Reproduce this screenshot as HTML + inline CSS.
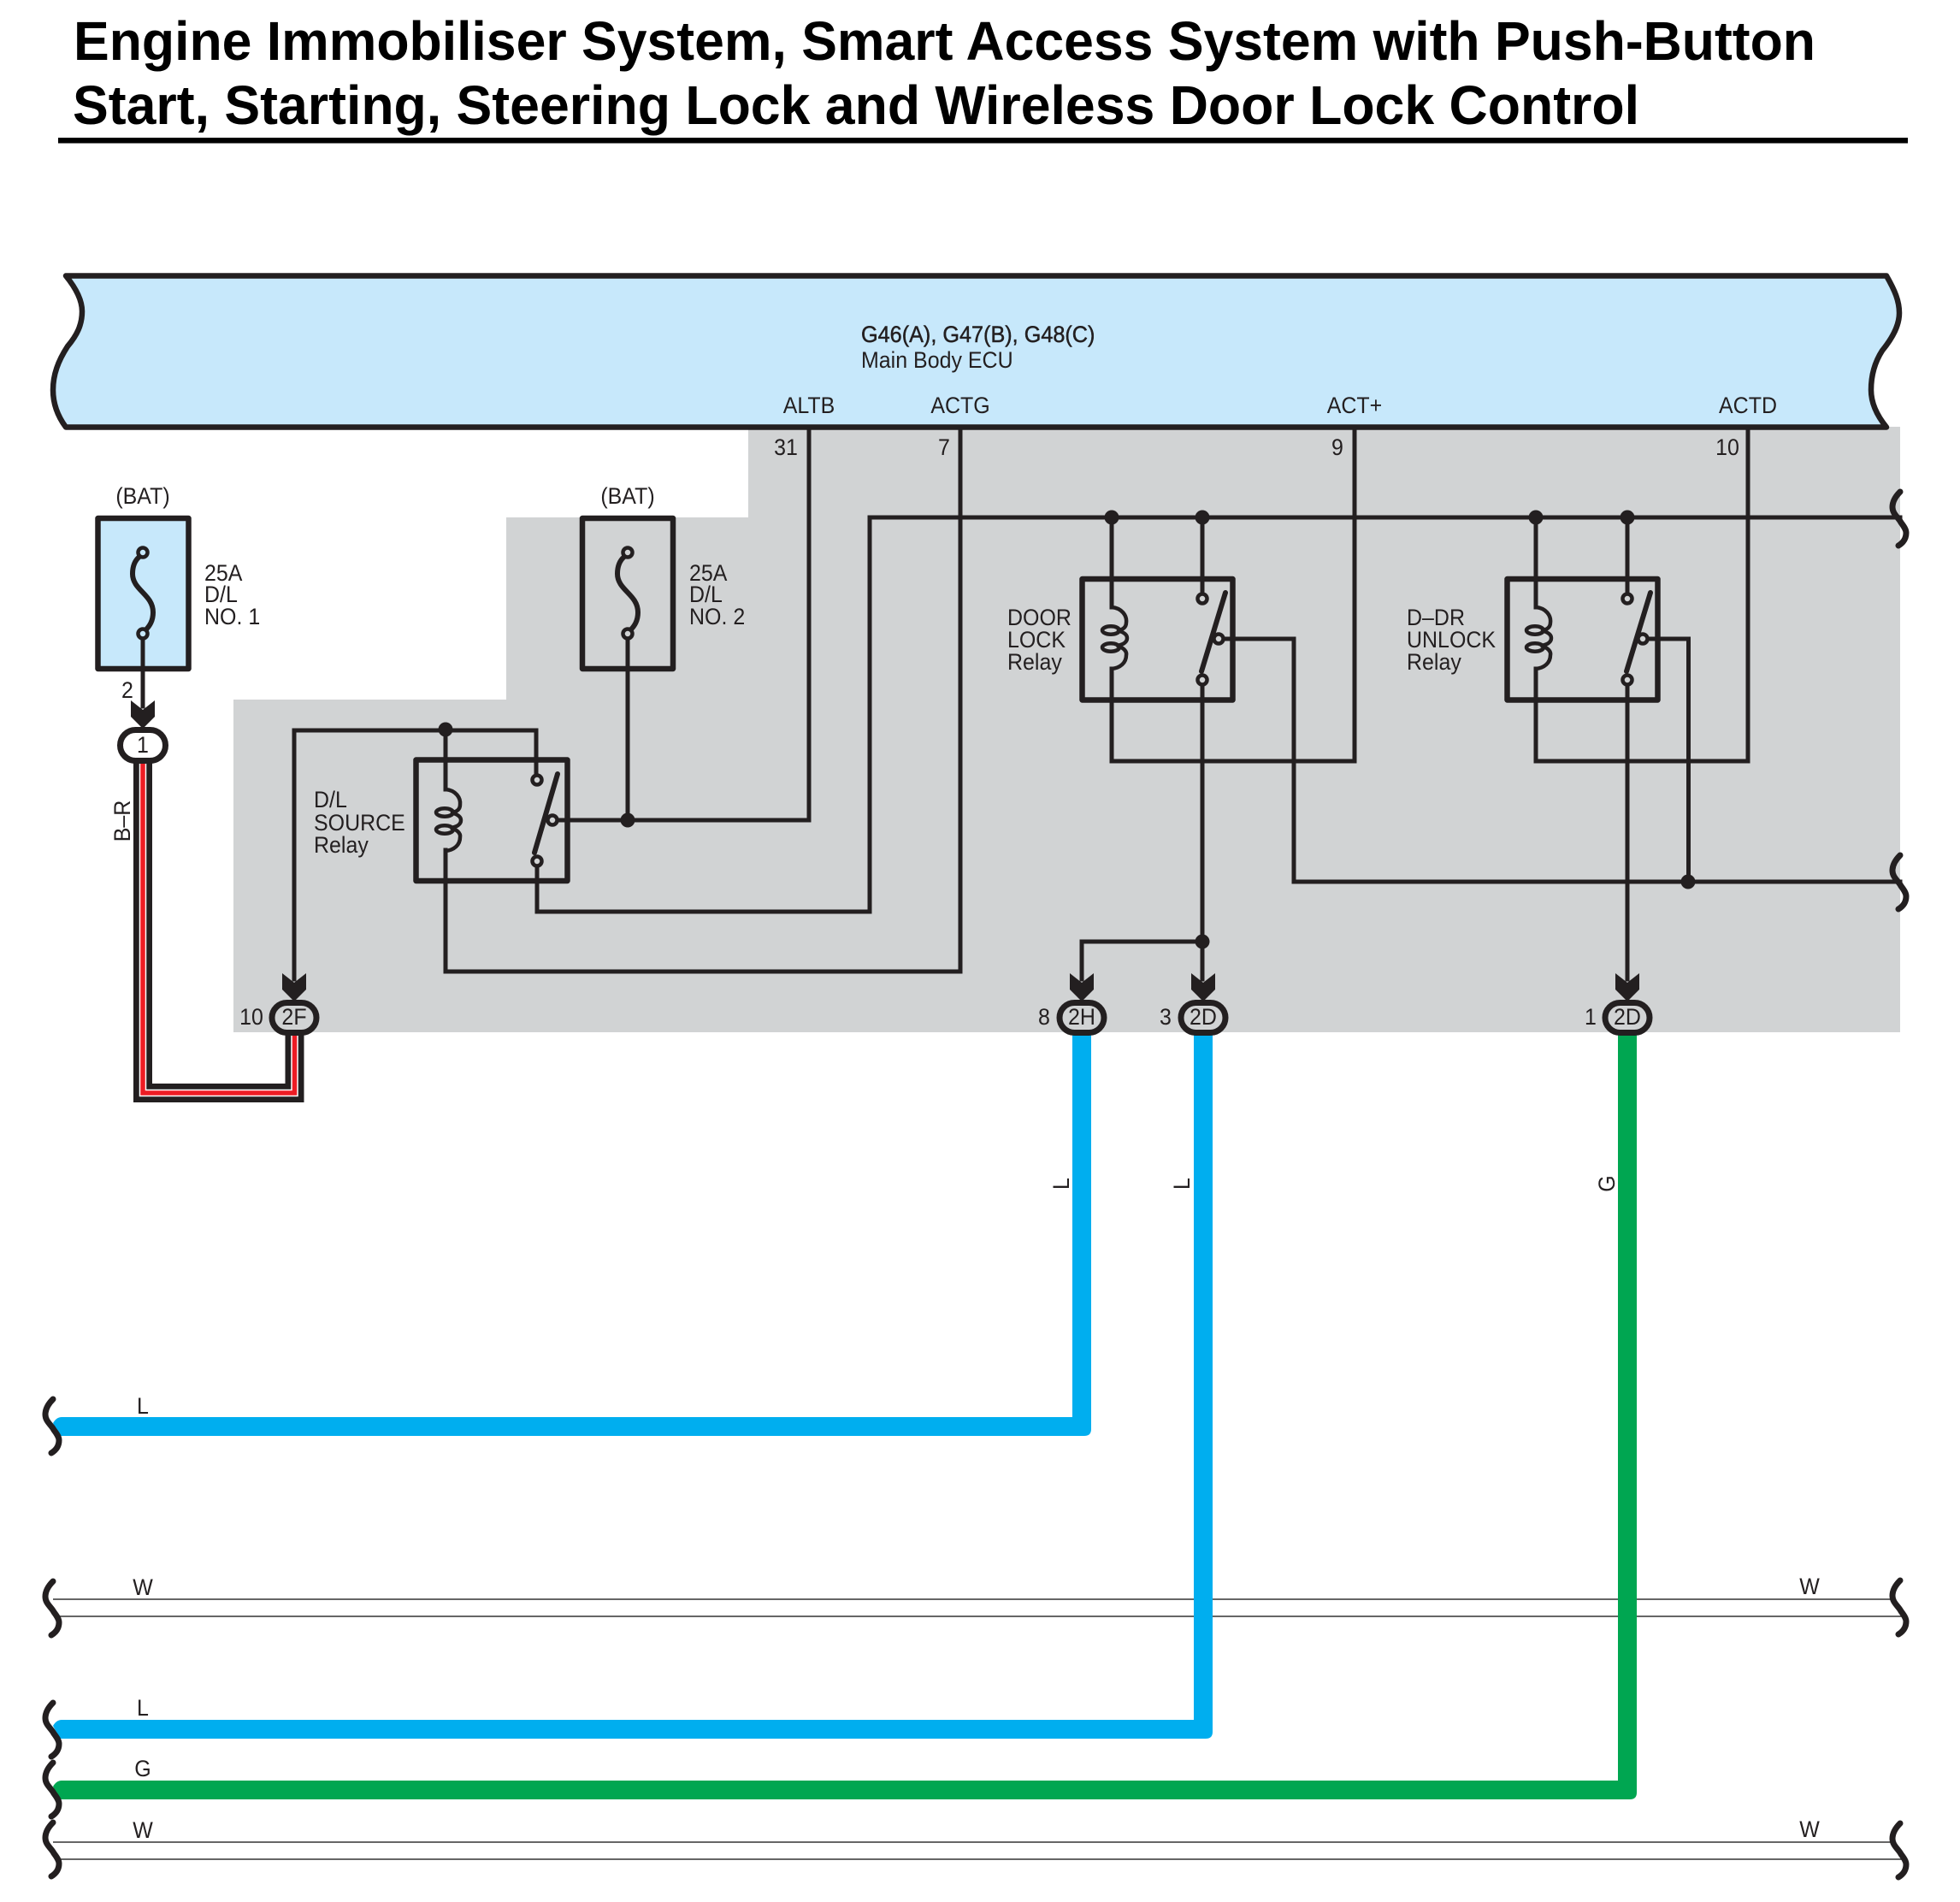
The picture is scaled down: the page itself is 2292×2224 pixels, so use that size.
<!DOCTYPE html>
<html>
<head>
<meta charset="utf-8">
<style>
html,body{margin:0;padding:0;background:#fff;}
svg{display:block;}
text{font-family:"Liberation Sans",Arial,sans-serif;font-size:27px;fill:#231f20;}
.t{font-size:64px;font-weight:bold;fill:#000;}
.m{text-anchor:middle;}
.w{fill:none;stroke:#231f20;stroke-width:5;stroke-linecap:square;stroke-linejoin:miter;}
.s{fill:none;stroke:#231f20;stroke-width:7;stroke-linecap:round;}
.box{stroke:#231f20;stroke-width:6.5;stroke-linejoin:round;}
.c{stroke:#231f20;stroke-width:4.5;}
.j{fill:#231f20;}
.thin{fill:none;stroke:#333;stroke-width:1.6;}
</style>
</head>
<body>
<svg width="2292" height="2224" viewBox="0 0 2292 2224" xmlns="http://www.w3.org/2000/svg">
<defs>
<g id="sq"><path class="s" d="M0 0C-6 6-9 12-9 18C-9 26-2 30 1 36C4 40 7 44 7 48C7 55 3 60-2 63"/></g>
<g id="arr"><path class="j" d="M-14 0L0 11L14 0V19L0 33L-14 19Z"/></g>
<g id="coil" fill="none" stroke="#231f20" stroke-width="4.5">
<path d="M0 0C12 1 18 10 17 18C17 24 12 27 6 27C14 29 18 32 18 36C18 41 13 44 6 45C13 47 18 51 17 56C17 65 10 71 0 72"/>
<ellipse cx="-1" cy="27" rx="10" ry="4.7"/>
<ellipse cx="-1" cy="47" rx="10" ry="4.7"/>
</g>
<g id="fs"><path fill="none" stroke="#231f20" stroke-width="6" d="M163 651C157 656 155 664 155 671C155 690 179 695 179 716C179 726 175 732 170 737"/></g>
</defs>

<rect width="2292" height="2224" fill="#fff"/>

<!-- Title -->
<text class="t" x="86" y="70" textLength="2037" lengthAdjust="spacingAndGlyphs">Engine Immobiliser System, Smart Access System with Push-Button</text>
<text class="t" x="85" y="145" textLength="1832" lengthAdjust="spacingAndGlyphs">Start, Starting, Steering Lock and Wireless Door Lock Control</text>
<rect x="68" y="161" width="2163" height="6.5" fill="#000"/>

<!-- Grey region -->
<path fill="#d1d3d4" d="M875 499H2222V1207H273V818H592V605H875Z"/>

<!-- ECU -->
<path fill="#c7e8fb" stroke="#231f20" stroke-width="6.5" stroke-linejoin="round" d="M77 322.500H2206C2216 340 2221 352 2221 366C2221 380 2214 394 2201 410C2192 424 2188 440 2188 456C2188 472 2195 486 2206 499.500H77C67 486 62 472 62 456C62 438 68 422 79 405C90 392 96 380 96 364C96 350 88 336 77 322.500Z"/>
<text transform="translate(1007 400) scale(.935 1)" stroke="#231f20" stroke-width="0.5">G46(A), G47(B), G48(C)</text>
<text transform="translate(1007 430) scale(.925 1)">Main Body ECU</text>
<text class="m" transform="translate(946 483) scale(.925 1)">ALTB</text>
<text class="m" transform="translate(1123 483) scale(.925 1)">ACTG</text>
<text class="m" transform="translate(1584 483) scale(.925 1)">ACT+</text>
<text class="m" transform="translate(2044 483) scale(.925 1)">ACTD</text>
<text class="m" transform="translate(919 532) scale(.925 1)">31</text>
<text class="m" transform="translate(1104 532) scale(.925 1)">7</text>
<text class="m" transform="translate(1564 532) scale(.925 1)">9</text>
<text class="m" transform="translate(2020 532) scale(.925 1)">10</text>

<!-- Fuse 1 -->
<text class="m" transform="translate(167 589) scale(.925 1)">(BAT)</text>
<rect class="box" x="114.500" y="606" width="106" height="176" fill="#c7e8fb"/>
<use href="#fs"/>
<path class="w" d="M167 746V826"/>
<circle class="c" cx="167" cy="646" r="5.500" fill="#c7e8fb"/>
<circle class="c" cx="167" cy="741" r="5.500" fill="#c7e8fb"/>
<text transform="translate(239 679) scale(.925 1)">25A</text>
<text transform="translate(239 704) scale(.925 1)">D/L</text>
<text transform="translate(239 730) scale(.925 1)">NO. 1</text>
<text class="m" transform="translate(149 816) scale(.925 1)">2</text>

<!-- B-R harness -->
<path fill="none" stroke="#231f20" stroke-width="22" stroke-linejoin="miter" d="M167 888V1278H344.500V1206"/>
<path fill="none" stroke="#fff" stroke-width="8.500" stroke-linejoin="miter" d="M167 888V1278H344.500V1206"/>
<path fill="none" stroke="#ed1c24" stroke-width="5.500" stroke-linejoin="miter" d="M167 888V1278H344.500V1206"/>
<use href="#arr" x="167" y="819"/>
<rect x="140.500" y="853.500" width="53" height="36" rx="18" fill="#fff" stroke="#231f20" stroke-width="7"/>
<text class="m" transform="translate(167 880) scale(.925 1)">1</text>
<text class="m" transform="translate(152 960) rotate(-90) scale(.925 1)">B–R</text>

<!-- Fuse 2 -->
<text class="m" transform="translate(734 589) scale(.925 1)">(BAT)</text>
<rect class="box" x="681" y="606" width="106" height="176" fill="#d1d3d4"/>
<use href="#fs" x="567"/>
<path class="w" d="M734 746V959"/>
<circle class="c" cx="734" cy="646" r="5.500" fill="#d1d3d4"/>
<circle class="c" cx="734" cy="741" r="5.500" fill="#d1d3d4"/>
<text transform="translate(806 679) scale(.925 1)">25A</text>
<text transform="translate(806 704) scale(.925 1)">D/L</text>
<text transform="translate(806 730) scale(.925 1)">NO. 2</text>

<!-- Wiring -->
<path class="w" d="M344 1145V854H627V907"/>
<path class="w" d="M521 854V923"/>
<path class="w" d="M521 994V1136H1123V502"/>
<path class="w" d="M652 959H946V502"/>
<path class="w" d="M628 1012V1066H1017V605H2222"/>
<path class="w" d="M1300 605V710"/>
<path class="w" d="M1300 782V890H1584V502"/>
<path class="w" d="M1406 605V695"/>
<path class="w" d="M1406 800V1145"/>
<path class="w" d="M1430 747H1513V1031H2222"/>
<path class="w" d="M1406 1101H1265V1145"/>
<path class="w" d="M1796 605V710"/>
<path class="w" d="M1796 782V890H2044V502"/>
<path class="w" d="M1903 605V695"/>
<path class="w" d="M1903 800V1145"/>
<path class="w" d="M1926 747H1974.500V1031"/>

<!-- D/L source relay -->
<rect class="box" x="486.500" y="888.500" width="177" height="141.500" fill="none"/>
<use href="#coil" x="521" y="923"/>
<path stroke="#231f20" stroke-width="6" stroke-linecap="round" d="M652 905L625 997"/>
<circle class="c" cx="628" cy="912" r="5.500" fill="#d1d3d4"/>
<circle class="c" cx="628" cy="1007" r="5.500" fill="#d1d3d4"/>
<circle class="c" cx="646" cy="959" r="5.500" fill="#d1d3d4"/>
<text transform="translate(367 944) scale(.925 1)">D/L</text>
<text transform="translate(367 971) scale(.925 1)">SOURCE</text>
<text transform="translate(367 997) scale(.925 1)">Relay</text>

<!-- Door lock relay -->
<rect class="box" x="1265.500" y="677" width="176" height="141.500" fill="none"/>
<use href="#coil" x="1300" y="710"/>
<path stroke="#231f20" stroke-width="6" stroke-linecap="round" d="M1433 693L1405 785"/>
<circle class="c" cx="1406" cy="700" r="5.500" fill="#d1d3d4"/>
<circle class="c" cx="1406" cy="795" r="5.500" fill="#d1d3d4"/>
<circle class="c" cx="1425" cy="747" r="5.500" fill="#d1d3d4"/>
<text transform="translate(1178 731) scale(.925 1)">DOOR</text>
<text transform="translate(1178 757) scale(.925 1)">LOCK</text>
<text transform="translate(1178 783) scale(.925 1)">Relay</text>

<!-- D-DR unlock relay -->
<rect class="box" x="1762.500" y="677" width="176" height="141.500" fill="none"/>
<use href="#coil" x="1796" y="710"/>
<path stroke="#231f20" stroke-width="6" stroke-linecap="round" d="M1930 693L1902 785"/>
<circle class="c" cx="1903" cy="700" r="5.500" fill="#d1d3d4"/>
<circle class="c" cx="1903" cy="795" r="5.500" fill="#d1d3d4"/>
<circle class="c" cx="1921" cy="747" r="5.500" fill="#d1d3d4"/>
<text transform="translate(1645 731) scale(.925 1)">D–DR</text>
<text transform="translate(1645 757) scale(.925 1)">UNLOCK</text>
<text transform="translate(1645 783) scale(.925 1)">Relay</text>

<!-- Junctions -->
<circle class="j" cx="521" cy="853" r="8.500"/>
<circle class="j" cx="734" cy="959" r="8.500"/>
<circle class="j" cx="1300" cy="605" r="8.500"/>
<circle class="j" cx="1406" cy="605" r="8.500"/>
<circle class="j" cx="1796" cy="605" r="8.500"/>
<circle class="j" cx="1903" cy="605" r="8.500"/>
<circle class="j" cx="1974" cy="1031" r="8.500"/>
<circle class="j" cx="1406" cy="1101" r="8.500"/>

<!-- Bus squiggles -->
<use href="#sq" x="2222" y="575"/>
<use href="#sq" x="2222" y="1000"/>

<!-- W lines -->
<path class="thin" d="M62 1870H2213M68 1890H2226M62 2154H2213M68 2174H2226"/>

<!-- Coloured wires -->
<path fill="#00aeef" d="M1254 1208H1276V1671Q1276 1679 1268 1679H70L62 1664Q66 1657 72 1657H1254Z"/>
<path fill="#00aeef" d="M1396 1208H1418V2025Q1418 2033 1410 2033H70L62 2018Q66 2011 72 2011H1396Z"/>
<path fill="#00a651" d="M1892 1208H1914V2096Q1914 2104 1906 2104H70L62 2089Q66 2082 72 2082H1892Z"/>

<!-- Connectors -->
<use href="#arr" x="344" y="1138"/>
<use href="#arr" x="1265" y="1138"/>
<use href="#arr" x="1407" y="1138"/>
<use href="#arr" x="1903" y="1138"/>
<rect x="318" y="1172.500" width="52" height="35" rx="17.500" fill="#d1d3d4" stroke="#231f20" stroke-width="7"/>
<rect x="1239" y="1172.500" width="52" height="35" rx="17.500" fill="#d1d3d4" stroke="#231f20" stroke-width="7"/>
<rect x="1381" y="1172.500" width="52" height="35" rx="17.500" fill="#d1d3d4" stroke="#231f20" stroke-width="7"/>
<rect x="1877" y="1172.500" width="52" height="35" rx="17.500" fill="#d1d3d4" stroke="#231f20" stroke-width="7"/>
<text class="m" transform="translate(344 1198) scale(.925 1)">2F</text>
<text class="m" transform="translate(1265 1198) scale(.925 1)">2H</text>
<text class="m" transform="translate(1407 1198) scale(.925 1)">2D</text>
<text class="m" transform="translate(1903 1198) scale(.925 1)">2D</text>
<text class="m" transform="translate(294 1198) scale(.925 1)">10</text>
<text class="m" transform="translate(1221 1198) scale(.925 1)">8</text>
<text class="m" transform="translate(1363 1198) scale(.925 1)">3</text>
<text class="m" transform="translate(1860 1198) scale(.925 1)">1</text>

<!-- Rotated wire labels -->
<text class="m" transform="translate(1250 1384) rotate(-90) scale(.925 1)">L</text>
<text class="m" transform="translate(1391 1384) rotate(-90) scale(.925 1)">L</text>
<text class="m" transform="translate(1888 1384) rotate(-90) scale(.925 1)">G</text>

<!-- Left squiggles and labels -->
<use href="#sq" x="62" y="1636"/>
<use href="#sq" x="62" y="1849"/>
<use href="#sq" x="62" y="1991"/>
<use href="#sq" x="62" y="2061"/>
<use href="#sq" x="62" y="2131"/>
<text class="m" transform="translate(167 1653) scale(.925 1)">L</text>
<text class="m" transform="translate(167 1865) scale(.925 1)">W</text>
<text class="m" transform="translate(167 2006) scale(.925 1)">L</text>
<text class="m" transform="translate(167 2077) scale(.925 1)">G</text>
<text class="m" transform="translate(167 2149) scale(.925 1)">W</text>

<!-- Right squiggles and labels -->
<use href="#sq" x="2222" y="1848"/>
<use href="#sq" x="2222" y="2132"/>
<text class="m" transform="translate(2116 1864) scale(.925 1)">W</text>
<text class="m" transform="translate(2116 2148) scale(.925 1)">W</text>
</svg>
</body>
</html>
